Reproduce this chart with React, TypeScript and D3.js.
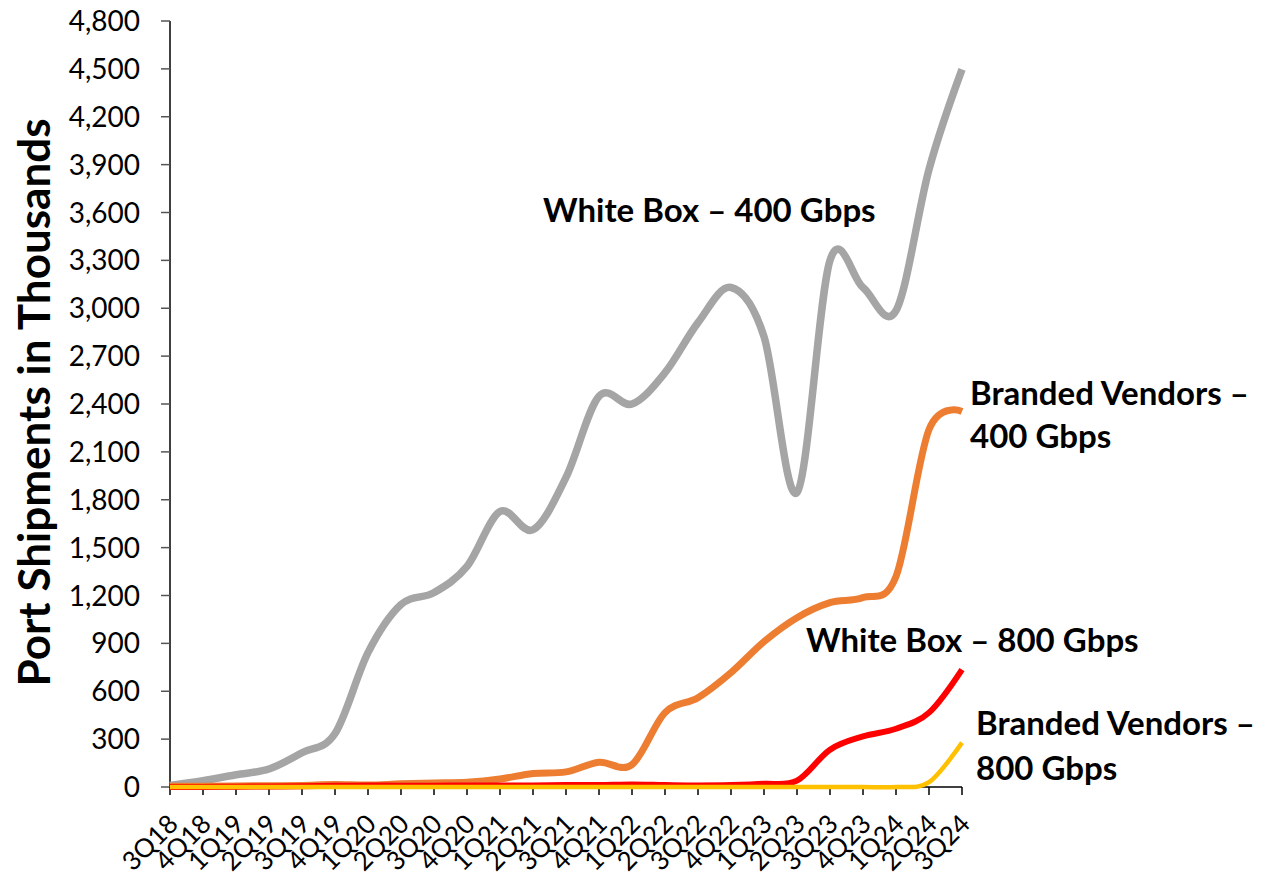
import React from 'react';
import * as d3 from 'd3';

const quarters = [
  '3Q18', '4Q18', '1Q19', '2Q19', '3Q19', '4Q19', '1Q20', '2Q20', '3Q20', '4Q20',
  '1Q21', '2Q21', '3Q21', '4Q21', '1Q22', '2Q22', '3Q22', '4Q22', '1Q23', '2Q23',
  '3Q23', '4Q23', '1Q24', '2Q24', '3Q24',
];

// port shipments, thousands
const whiteBox400 = [10, 40, 77, 113, 215, 335, 842, 1143, 1218, 1382, 1726, 1612, 1940, 2448, 2400, 2596, 2910, 3130, 2822, 1845, 3300, 3130, 2985, 3870, 4497];
const branded400 = [5, 5, 6, 8, 10, 15, 12, 20, 25, 30, 50, 85, 95, 155, 140, 466, 560, 717, 911, 1061, 1155, 1187, 1319, 2240, 2353];
const whiteBox800 = [0, 0, 2, 3, 5, 8, 10, 8, 8, 10, 10, 10, 12, 12, 15, 12, 10, 12, 20, 40, 234, 317, 365, 466, 736];
const branded800 = [0, 0, 0, 0, 0, 0, 0, 0, 0, 0, 0, 0, 0, 0, 0, 0, 0, 0, 0, 0, 0, 0, 0, 30, 278];

const yTicks = d3.range(0, 4801, 300);

const series = [
  { name: 'White Box – 400 Gbps', values: whiteBox400, color: '#A5A5A5', width: 7.5 },
  { name: 'Branded Vendors – 400 Gbps', values: branded400, color: '#ED7D31', width: 7 },
  { name: 'White Box – 800 Gbps', values: whiteBox800, color: '#FF0000', width: 6 },
  { name: 'Branded Vendors – 800 Gbps', values: branded800, color: '#FFC000', width: 4.5 },
];

const W = 1273;
const H = 877;
const left = 170;
const right = 962;
const top = 21;
const bottom = 787;

export default function App() {
  const x = d3.scalePoint<string>().domain(quarters).range([left, right]);
  const y = d3.scaleLinear().domain([0, 4800]).range([bottom, top]);
  const fmt = d3.format(',');

  const line = (vals: number[]) =>
    d3.line<number>()
      .x((_, i) => x(quarters[i])!)
      .y(d => y(d))
      .curve(d3.curveCardinal.tension(0))(vals) || '';

  const font = 'Lato, "Open Sans", sans-serif';

  return (
    <svg width={W} height={H} style={{ position: 'absolute', left: 0, top: 0, background: '#fff' }} fontFamily={font}>
      {/* y axis */}
      <line x1={left} x2={left} y1={top} y2={bottom} stroke="#000" strokeWidth={1.5} />
      {yTicks.map(t => (
        <g key={t}>
          <line x1={left - 9} x2={left} y1={y(t)} y2={y(t)} stroke="#555" strokeWidth={1.5} />
          <text x={140} y={y(t)} dy="0.36em" textAnchor="end" fontSize={28} fill="#000">
            {fmt(t)}
          </text>
        </g>
      ))}

      {/* x axis */}
      <line x1={left} x2={right} y1={bottom} y2={bottom} stroke="#000" strokeWidth={1.5} />
      {quarters.map(q => (
        <g key={q}>
          <line x1={x(q)} x2={x(q)} y1={bottom} y2={bottom + 8} stroke="#000" strokeWidth={1.5} />
          <text
            transform={`translate(${x(q)! + 3},${bottom + 32}) rotate(-45)`}
            dy="0.36em"
            textAnchor="end"
            fontSize={26}
            fill="#000"
          >
            {q}
          </text>
        </g>
      ))}

      {/* y title */}
      <text
        transform={`translate(50,${(115 + 690) / 2}) rotate(-90)`}
        textAnchor="middle"
        fontSize={44}
        fontWeight="bold"
        fill="#000"
      >
        Port Shipments in Thousands
      </text>

      {/* lines */}
      {series.map(s => (
        <path
          key={s.name}
          d={line(s.values)}
          fill="none"
          stroke={s.color}
          strokeWidth={s.width}
          strokeLinejoin="round"
        />
      ))}

      {/* annotations */}
      <g fontSize={33} fontWeight="bold" fill="#000">
        <text x={543} y={222}>White Box – 400 Gbps</text>
        <text x={970} y={405}>Branded Vendors –</text>
        <text x={970} y={448}>400 Gbps</text>
        <text x={806} y={652}>White Box – 800 Gbps</text>
        <text x={976} y={735}>Branded Vendors –</text>
        <text x={976} y={780}>800 Gbps</text>
      </g>
    </svg>
  );
}
